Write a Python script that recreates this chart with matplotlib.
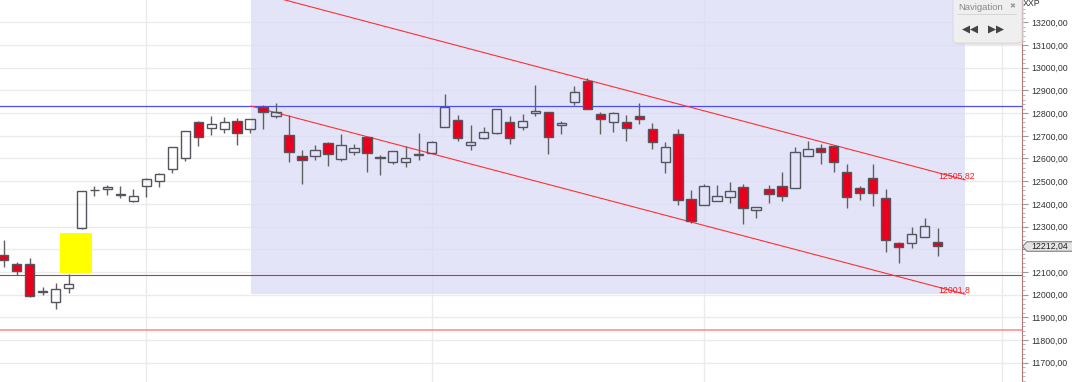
import matplotlib
matplotlib.use("Agg")
import matplotlib.pyplot as plt
import matplotlib.transforms as mtransforms
from matplotlib.patches import Rectangle, Polygon, FancyBboxPatch
from matplotlib.ticker import MultipleLocator, FuncFormatter

# OHLC per session (index = session number)
opens = [12174, 12135, 12135, 12012, 11966, 12028, 12295, 12460, 12464, 12441,
         12414, 12479, 12501, 12552, 12603, 12762, 12733, 12729, 12767, 12729,
         12828, 12789, 12704, 12611, 12612, 12670, 12596, 12630, 12693, 12603,
         12586, 12583, 12616, 12624, 12738, 12770, 12658, 12689, 12711, 12762,
         12740, 12799, 12804, 12748, 12850, 12942, 12795, 12761, 12760, 12786,
         12730, 12585, 12709, 12423, 12394, 12413, 12429, 12476, 12373, 12465,
         12480, 12469, 12612, 12645, 12655, 12539, 12469, 12515, 12424, 12226,
         12226, 12255, 12230]
highs = [12241, 12145, 12160, 12035, 12052, 12091, 12457, 12480, 12483, 12479,
         12464, 12515, 12535, 12649, 12721, 12767, 12787, 12782, 12777, 12773,
         12836, 12843, 12792, 12637, 12660, 12674, 12708, 12664, 12696, 12615,
         12633, 12654, 12711, 12677, 12884, 12792, 12748, 12740, 12818, 12787,
         12796, 12924, 12806, 12767, 12920, 12954, 12806, 12806, 12792, 12843,
         12758, 12674, 12729, 12461, 12486, 12482, 12498, 12488, 12387, 12483,
         12540, 12652, 12677, 12664, 12660, 12576, 12479, 12576, 12464, 12233,
         12299, 12339, 12292]
lows = [12123, 12086, 11991, 11998, 11935, 12006, 12288, 12436, 12439, 12424,
        12410, 12432, 12473, 12537, 12590, 12657, 12704, 12714, 12660, 12714,
        12729, 12777, 12586, 12488, 12593, 12568, 12589, 12615, 12542, 12527,
        12576, 12564, 12593, 12623, 12738, 12679, 12637, 12686, 12708, 12664,
        12726, 12789, 12620, 12707, 12836, 12817, 12708, 12718, 12677, 12752,
        12643, 12535, 12394, 12317, 12394, 12413, 12405, 12311, 12336, 12405,
        12414, 12469, 12612, 12576, 12542, 12383, 12417, 12391, 12189, 12141,
        12207, 12255, 12171]
closes = [12152, 12105, 11995, 12014, 12023, 12045, 12457, 12462, 12473, 12443,
          12436, 12508, 12530, 12649, 12721, 12695, 12751, 12760, 12711, 12773,
          12806, 12806, 12630, 12592, 12637, 12618, 12660, 12645, 12623, 12605,
          12633, 12601, 12618, 12671, 12826, 12689, 12674, 12716, 12818, 12689,
          12765, 12808, 12693, 12758, 12892, 12817, 12776, 12799, 12733, 12773,
          12673, 12649, 12416, 12324, 12477, 12436, 12455, 12382, 12387, 12443,
          12436, 12627, 12642, 12630, 12586, 12429, 12449, 12447, 12239, 12208,
          12266, 12304, 12212.04]

last_price = 12212.04
month_starts = [11, 33, 54, 77]

# drawn objects
resistance_level = 12831
support_level = 12086
low_level = 11844
channel_x = [19.07, 74.12]
channel_upper = [13338.5, 12505.82]
channel_lower = [12831, 12001.8]
highlight_x = [4.34, 6.81]
highlight_y = [12093, 12271]

fig_w, fig_h = 10.72, 3.82
plt.rcParams["font.family"] = ["Liberation Sans", "DejaVu Sans"]
fig = plt.figure(figsize=(fig_w, fig_h), dpi=100)
ax = fig.add_axes([0, 0, 1022 / 1072, 1])
ax.set_xlim(-0.285, 78.51)
ax.set_ylim(11614.6, 13298.8)

# grid
ax.set_axisbelow(True)
ax.set_xticks(month_starts)
ax.tick_params(axis="x", length=0, labelbottom=False)
ax.grid(True, color="#ebebeb", linewidth=1.0)

# channel shading
ax.add_patch(Rectangle((channel_x[0], channel_lower[1]),
                       channel_x[1] - channel_x[0], 14000 - channel_lower[1],
                       facecolor="#dcdcf8", alpha=0.75, edgecolor="none", zorder=1))

# yellow marker
ax.add_patch(Rectangle((highlight_x[0], highlight_y[0]),
                       highlight_x[1] - highlight_x[0], highlight_y[1] - highlight_y[0],
                       facecolor="#ffff00", edgecolor="none", zorder=1.2))

# horizontal levels
ax.axhline(resistance_level, color="#4b4bff", linewidth=0.9, zorder=1.5)
ax.axhline(support_level, color="#a04848", linewidth=0.8, zorder=1.5)
ax.axhline(low_level, color="#ff9090", linewidth=1.2, zorder=1.5)

# channel lines
ax.plot(channel_x, channel_upper, color="#ff3030", linewidth=0.8, zorder=1.6)
ax.plot(channel_x, channel_lower, color="#ff3030", linewidth=0.8, zorder=1.6)
ax.text(72.06, 12523, "12505,82", color="#ff1a1a", fontsize=6.3, va="center", ha="left")
ax.text(72.06, 12020, "12001,8", color="#ff1a1a", fontsize=6.3, va="center", ha="left")

# candles
body_w = 0.72
edge = "#555560"
for i, (o, h, l, c) in enumerate(zip(opens, highs, lows, closes)):
    top, bot = max(o, c), min(o, c)
    ax.vlines(i, top, h, color="#606060", linewidth=1.0, zorder=2)
    ax.vlines(i, l, bot, color="#606060", linewidth=1.0, zorder=2)
    height = max(top - bot, 3)
    face = "#e8001c" if c < o else "none"
    ax.bar(i, height, width=body_w, bottom=bot, facecolor=face,
           edgecolor=edge, linewidth=1.0, zorder=3)


# right price axis; the label under the last-price tag is hidden
def price_label(v, pos):
    if abs(v - last_price) < 40:
        return ""
    return f"{v:.2f}".replace(".", ",")


for side in ["top", "left", "bottom"]:
    ax.spines[side].set_visible(False)
ax.spines["right"].set_color("#b07a7a")
ax.spines["right"].set_linewidth(0.8)
ax.yaxis.tick_right()
ax.yaxis.set_major_locator(MultipleLocator(100))
ax.yaxis.set_minor_locator(MultipleLocator(20))
ax.yaxis.set_major_formatter(FuncFormatter(price_label))
ax.tick_params(axis="y", which="major", length=4, width=0.8, color="#999999",
               pad=3, labelsize=6.3, labelcolor="#333333")
ax.tick_params(axis="y", which="minor", length=2, width=0.6, color="#aaaaaa")

fig.text(1023 / 1072, 1 + 1.5 / 382, "XXP", fontsize=6.3, color="#333333",
         va="top", ha="left")

# last price tag
tag = mtransforms.blended_transform_factory(fig.dpi_scale_trans, ax.transData)
hh = 21
fig.add_artist(Polygon([(10.225, last_price), (10.27, last_price + hh),
                        (10.80, last_price + hh), (10.80, last_price - hh),
                        (10.27, last_price - hh)], closed=True,
                       facecolor="#e4e4e4", edgecolor="#808080", linewidth=0.8,
                       transform=tag, zorder=5))
fig.text(10.31, last_price, "12212,04", transform=tag, fontsize=6.3,
         color="#222222", va="center", ha="left", zorder=6)


# navigation box (pixel coords from the top-left corner)
def pix(x, y):
    return (x / 100, fig_h - y / 100)


inch = fig.dpi_scale_trans
fig.add_artist(FancyBboxPatch(pix(955, 45), 0.69, 0.6,
                              boxstyle="round,pad=0,rounding_size=0.04",
                              facecolor="#d8d8d8", edgecolor="none", alpha=0.6,
                              transform=inch, zorder=4))
fig.add_artist(FancyBboxPatch(pix(953, 43), 0.69, 0.6,
                              boxstyle="round,pad=0,rounding_size=0.04",
                              facecolor="#efefef", edgecolor="#d6d6d6", linewidth=0.6,
                              transform=inch, zorder=5))
fig.add_artist(plt.Line2D([9.58, 10.16], [pix(0, 14)[1]] * 2, color="#d0d0d0",
                          linewidth=0.6, transform=inch, zorder=6))
fig.text(*pix(958, 7), "Navigation", transform=inch, fontsize=6.8, color="#8a8a8a",
         va="center", ha="left", zorder=6)
fig.text(*pix(1012, 7), "✖", transform=inch, fontsize=5, color="#9a9a9a",
         va="center", ha="center", zorder=6)
for x0, d in [(970, -1), (978, -1), (988, 1), (996, 1)]:
    tip = x0 + 8 * d if d > 0 else x0 - 8
    pts = [pix(x0, 25.5), pix(tip, 29.5), pix(x0, 33.5)]
    fig.add_artist(Polygon(pts, closed=True, facecolor="#444444", edgecolor="none",
                           transform=inch, zorder=6))

fig.savefig("out.png", dpi=100, facecolor="white")
